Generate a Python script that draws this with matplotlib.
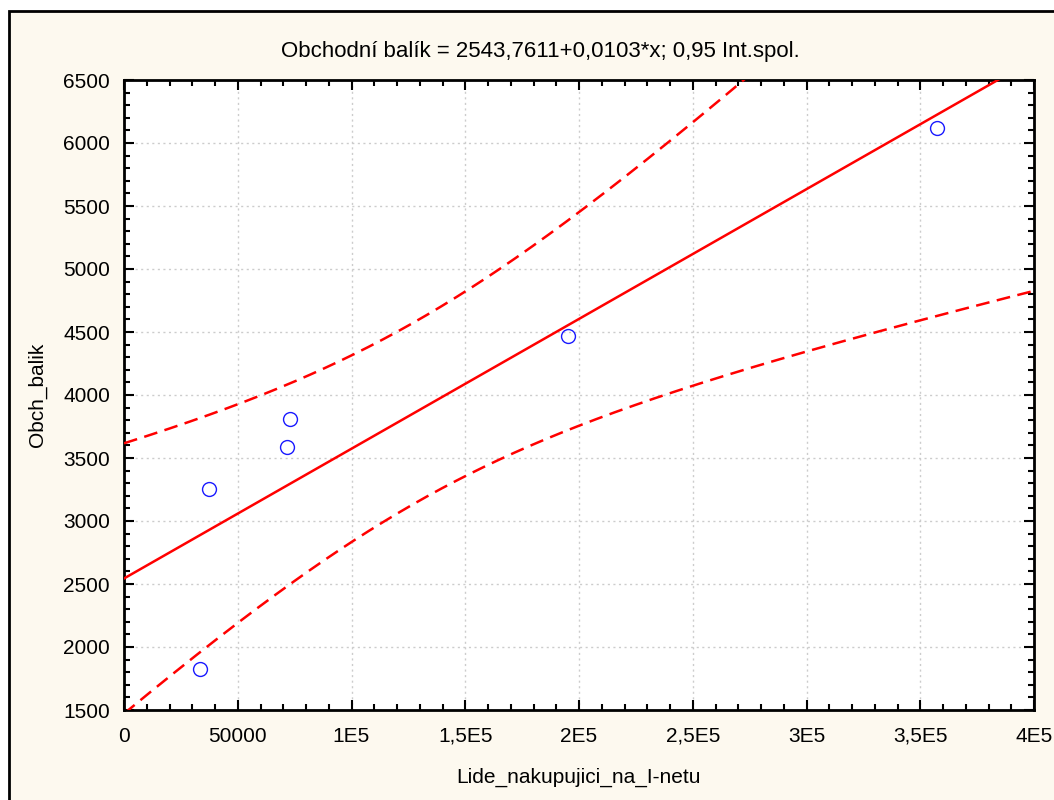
import numpy as np
import matplotlib
matplotlib.use('Agg')
import matplotlib.pyplot as plt
from matplotlib.patches import Rectangle
from matplotlib.ticker import MultipleLocator

# body grafu
lide = np.array([33400, 37400, 71600, 73000, 195200, 357400])
balik = np.array([1825, 3255, 3590, 3810, 4470, 6120])

# koeficienty z titulku
b0 = 2543.7611
b1 = 0.0103
t_crit = 2.776  # t(0.975, n-2 = 4)

x_ticks = [0, 50000, 100000, 150000, 200000, 250000, 300000, 350000, 400000]
x_labels = ['0', '50000', '1E5', '1,5E5', '2E5', '2,5E5', '3E5', '3,5E5', '4E5']
y_ticks = [1500, 2000, 2500, 3000, 3500, 4000, 4500, 5000, 5500, 6000, 6500]

plt.rcParams['font.family'] = ['Liberation Sans', 'DejaVu Sans']

# pas spolehlivosti pro stredni hodnotu
n = len(lide)
resid = balik - (b0 + b1 * lide)
s = np.sqrt(np.sum(resid**2) / (n - 2))
sxx = np.sum((lide - lide.mean())**2)
xx = np.linspace(0, 400000, 500)
fit = b0 + b1 * xx
half = t_crit * s * np.sqrt(1.0 / n + (xx - lide.mean())**2 / sxx)

fig = plt.figure(figsize=(10.54, 8), dpi=100, facecolor='white')
cream = '#fdf9ef'
fig.patches.append(Rectangle((9 / 1054, -0.1), 1.2, 1 - 11 / 800 + 0.1,
                             transform=fig.transFigure, facecolor=cream,
                             edgecolor='black', linewidth=2, zorder=-5))

ax = fig.add_axes([124 / 1054, 1 - 710 / 800, 910 / 1054, 630 / 800])
ax.set_zorder(2)
ax.set_facecolor('white')

ax.plot(xx, fit, color='#ff0000', lw=1.8, zorder=3)
ax.plot(xx, fit + half, color='#ff0000', lw=1.8, dashes=(5.5, 3), zorder=3)
ax.plot(xx, fit - half, color='#ff0000', lw=1.8, dashes=(5.5, 3), zorder=3)
ax.plot(lide, balik, 'o', ms=10, mfc='none', mec='#1a1aff', mew=1.0, zorder=4)

ax.set_xlim(0, 400000)
ax.set_ylim(1500, 6500)
ax.set_xticks(x_ticks)
ax.set_xticklabels(x_labels)
ax.set_yticks(y_ticks)
ax.xaxis.set_minor_locator(MultipleLocator(10000))
ax.yaxis.set_minor_locator(MultipleLocator(100))
ax.tick_params(which='both', direction='in', top=True, right=True, width=1.5,
               labelsize=15, colors='black')
ax.tick_params(which='major', length=7)
ax.tick_params(which='minor', length=4)
ax.tick_params(axis='x', pad=12)
ax.tick_params(axis='y', pad=10)
for sp in ax.spines.values():
    sp.set_linewidth(2)
ax.grid(True, which='major', color='#cccccc', linestyle=(0, (1.5, 2.5)), lw=1)
ax.set_axisbelow(True)

ax.set_xlabel('Lide_nakupujici_na_I-netu', fontsize=15, labelpad=16)
ax.set_ylabel('Obch_balik', fontsize=15, labelpad=12)
fig.text(540 / 1054, 1 - 52 / 800, 'Obchodní balík = 2543,7611+0,0103*x; 0,95 Int.spol.',
         ha='center', va='center', fontsize=16)

fig.savefig('out.png', dpi=100, facecolor=fig.get_facecolor())
